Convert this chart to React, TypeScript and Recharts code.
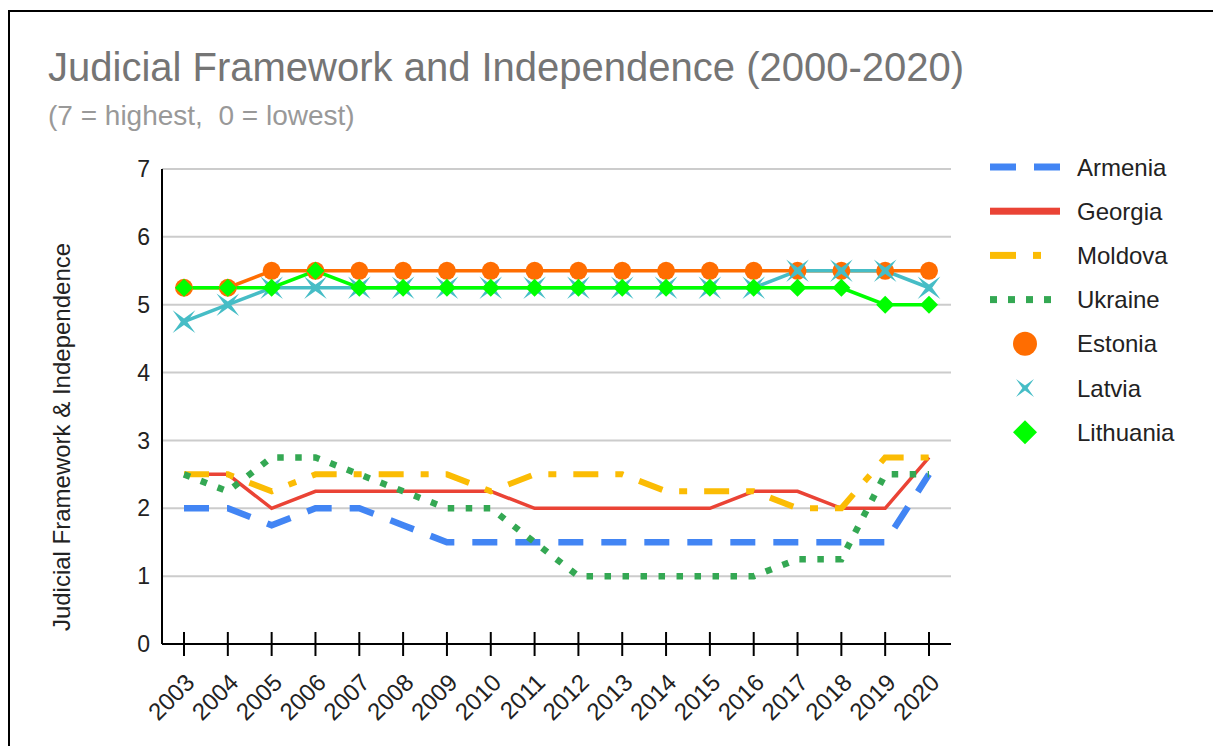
import { CartesianGrid, Line, LineChart, XAxis, YAxis } from 'recharts'

const years = ['2003', '2004', '2005', '2006', '2007', '2008', '2009', '2010', '2011', '2012', '2013', '2014', '2015', '2016', '2017', '2018', '2019', '2020']
const armenia = [2, 2, 1.75, 2, 2, 1.75, 1.5, 1.5, 1.5, 1.5, 1.5, 1.5, 1.5, 1.5, 1.5, 1.5, 1.5, 2.5]
const georgia = [2.5, 2.5, 2, 2.25, 2.25, 2.25, 2.25, 2.25, 2, 2, 2, 2, 2, 2.25, 2.25, 2, 2, 2.75]
const moldova = [2.5, 2.5, 2.25, 2.5, 2.5, 2.5, 2.5, 2.25, 2.5, 2.5, 2.5, 2.25, 2.25, 2.25, 2, 2, 2.75, 2.75]
const ukraine = [2.5, 2.25, 2.75, 2.75, 2.5, 2.25, 2, 2, 1.5, 1, 1, 1, 1, 1, 1.25, 1.25, 2.5, 2.5]
const estonia = [5.25, 5.25, 5.5, 5.5, 5.5, 5.5, 5.5, 5.5, 5.5, 5.5, 5.5, 5.5, 5.5, 5.5, 5.5, 5.5, 5.5, 5.5]
const latvia = [4.75, 5, 5.25, 5.25, 5.25, 5.25, 5.25, 5.25, 5.25, 5.25, 5.25, 5.25, 5.25, 5.25, 5.5, 5.5, 5.5, 5.25]
const lithuania = [5.25, 5.25, 5.25, 5.5, 5.25, 5.25, 5.25, 5.25, 5.25, 5.25, 5.25, 5.25, 5.25, 5.25, 5.25, 5.25, 5, 5]
const yTicks = [0, 1, 2, 3, 4, 5, 6, 7]

const FONT = "'Liberation Sans', Arial, sans-serif"
const C = {
  armenia: '#4285F4',
  georgia: '#EA4335',
  moldova: '#FBBC04',
  ukraine: '#34A853',
  estonia: '#FF6D01',
  latvia: '#46BDC6',
  lithuania: '#00FF00',
}

const data = years.map((year, i) => ({
  year,
  Armenia: armenia[i],
  Georgia: georgia[i],
  Moldova: moldova[i],
  Ukraine: ukraine[i],
  Estonia: estonia[i],
  Latvia: latvia[i],
  Lithuania: lithuania[i],
}))

function starPath(cx: number, cy: number, r: number, inner: number) {
  const pts: string[] = []
  for (let k = 0; k < 8; k++) {
    const a = (Math.PI / 4) * k + Math.PI / 4
    const rad = k % 2 === 0 ? r : inner
    pts.push(`${cx + rad * Math.cos(a)},${cy + rad * Math.sin(a)}`)
  }
  return `M${pts.join('L')}Z`
}

function diamondPath(cx: number, cy: number, h: number) {
  return `M${cx},${cy - h}L${cx + h},${cy}L${cx},${cy + h}L${cx - h},${cy}Z`
}

function LatviaDot(props: any) {
  const { cx, cy, index } = props
  return <path key={`lv-${index}`} d={starPath(cx, cy, 16, 3.2)} fill={C.latvia} />
}

function LithuaniaDot(props: any) {
  const { cx, cy, index } = props
  return <path key={`lt-${index}`} d={diamondPath(cx, cy, 9)} fill={C.lithuania} />
}

function YearTick({ x, y, payload }: any) {
  const tx = x + 12
  const ty = y + 40
  return (
    <g>
      <line x1={x} x2={x} y1={y - 12} y2={y + 12} stroke="#000" strokeWidth={2} />
      <text x={tx} y={ty} textAnchor="end" transform={`rotate(-45 ${tx} ${ty})`} fontSize={24} fontFamily={FONT} fill="#222">
        {payload.value}
      </text>
    </g>
  )
}

const legendRows = [
  { name: 'Armenia', kind: 'dash' },
  { name: 'Georgia', kind: 'solid' },
  { name: 'Moldova', kind: 'dashdot' },
  { name: 'Ukraine', kind: 'dot' },
  { name: 'Estonia', kind: 'circle' },
  { name: 'Latvia', kind: 'star' },
  { name: 'Lithuania', kind: 'diamond' },
]

function LegendIcon({ kind, y }: { kind: string; y: number }) {
  if (kind === 'dash')
    return (
      <g fill={C.armenia}>
        <rect x={990} y={y - 3.5} width={26} height={7} />
        <rect x={1034} y={y - 3.5} width={26} height={7} />
      </g>
    )
  if (kind === 'solid') return <rect x={990} y={y - 3.5} width={70} height={7} fill={C.georgia} />
  if (kind === 'dashdot')
    return (
      <g fill={C.moldova}>
        <rect x={990} y={y - 3.5} width={26} height={7} />
        <rect x={1033} y={y - 3.5} width={8} height={7} />
      </g>
    )
  if (kind === 'dot')
    return (
      <g fill={C.ukraine}>
        {[990, 1008, 1026, 1044].map((x) => (
          <rect key={x} x={x} y={y - 3.5} width={7} height={7} />
        ))}
      </g>
    )
  if (kind === 'circle') return <circle cx={1025} cy={y} r={12} fill={C.estonia} />
  if (kind === 'star') return <path d={starPath(1025, y, 12.7, 2.6)} fill={C.latvia} />
  return <path d={diamondPath(1025, y, 12)} fill={C.lithuania} />
}

export default function App() {
  return (
    <div style={{ position: 'relative', width: 1213, height: 746, overflow: 'hidden', background: '#fff', fontFamily: FONT }}>
      <style>{'body{margin:0;overflow:hidden}'}</style>
      <div
        style={{
          position: 'absolute',
          left: 8,
          top: 10,
          width: 1300,
          height: 800,
          border: '2px solid #000',
        }}
      />
      <LineChart
        width={1213}
        height={746}
        data={data}
        margin={{ top: 169, right: 262, bottom: 2, left: 0 }}
        style={{ position: 'absolute', left: 0, top: 0 }}
      >
        <CartesianGrid vertical={false} stroke="#ccc" strokeWidth={2} />
        <XAxis
          dataKey="year"
          height={100}
          padding={{ left: 22, right: 22 }}
          interval={0}
          tickSize={0}
          tickMargin={0}
          tickLine={false}
          axisLine={{ stroke: '#000', strokeWidth: 2 }}
          tick={<YearTick />}
        />
        <YAxis
          width={162}
          domain={[0, 7]}
          ticks={yTicks}
          interval={0}
          tickSize={0}
          tickMargin={12}
          tickLine={false}
          axisLine={{ stroke: '#000', strokeWidth: 2 }}
          tick={{ fontSize: 23, fill: '#222', fontFamily: FONT }}
          label={{
            content: () => (
              <text
                x={61}
                y={437}
                transform="rotate(-90 61 437)"
                textAnchor="middle"
                dominantBaseline="central"
                fontSize={24}
                fontFamily={FONT}
                fill="#222"
              >
                Judicial Framework &amp; Independence
              </text>
            ),
          }}
        />
        <Line type="linear" dataKey="Armenia" stroke={C.armenia} strokeWidth={6.5} strokeDasharray="25 18" dot={false} activeDot={false} isAnimationActive={false} />
        <Line type="linear" dataKey="Georgia" stroke={C.georgia} strokeWidth={3.5} dot={false} activeDot={false} isAnimationActive={false} />
        <Line type="linear" dataKey="Moldova" stroke={C.moldova} strokeWidth={6} strokeDasharray="25 17 8 17" dot={false} activeDot={false} isAnimationActive={false} />
        <Line type="linear" dataKey="Ukraine" stroke={C.ukraine} strokeWidth={6.5} strokeDasharray="6.5 11.5" dot={false} activeDot={false} isAnimationActive={false} />
        <Line type="linear" dataKey="Estonia" stroke={C.estonia} strokeWidth={3.5} dot={{ r: 9, fill: C.estonia, stroke: 'none', strokeWidth: 0 }} activeDot={false} isAnimationActive={false} />
        <Line type="linear" dataKey="Latvia" stroke={C.latvia} strokeWidth={3.5} dot={<LatviaDot />} activeDot={false} isAnimationActive={false} />
        <Line type="linear" dataKey="Lithuania" stroke={C.lithuania} strokeWidth={3.5} dot={<LithuaniaDot />} activeDot={false} isAnimationActive={false} />
      </LineChart>
      <svg width={1213} height={746} style={{ position: 'absolute', left: 0, top: 0, pointerEvents: 'none' }}>
        <text x={48} y={81} fontSize={40} fontFamily={FONT} fill="#757575">
          Judicial Framework and Independence (2000-2020)
        </text>
        <text x={48} y={125} fontSize={28} fontFamily={FONT} fill="#999" style={{ whiteSpace: 'pre' }}>
          (7 = highest,  0 = lowest)
        </text>
        {legendRows.map((row, i) => {
          const y = 167 + i * 44.2
          return (
            <g key={row.name}>
              <LegendIcon kind={row.kind} y={y} />
              <text x={1077} y={y} dominantBaseline="central" fontSize={24} fontFamily={FONT} fill="#222">
                {row.name}
              </text>
            </g>
          )
        })}
      </svg>
    </div>
  )
}
